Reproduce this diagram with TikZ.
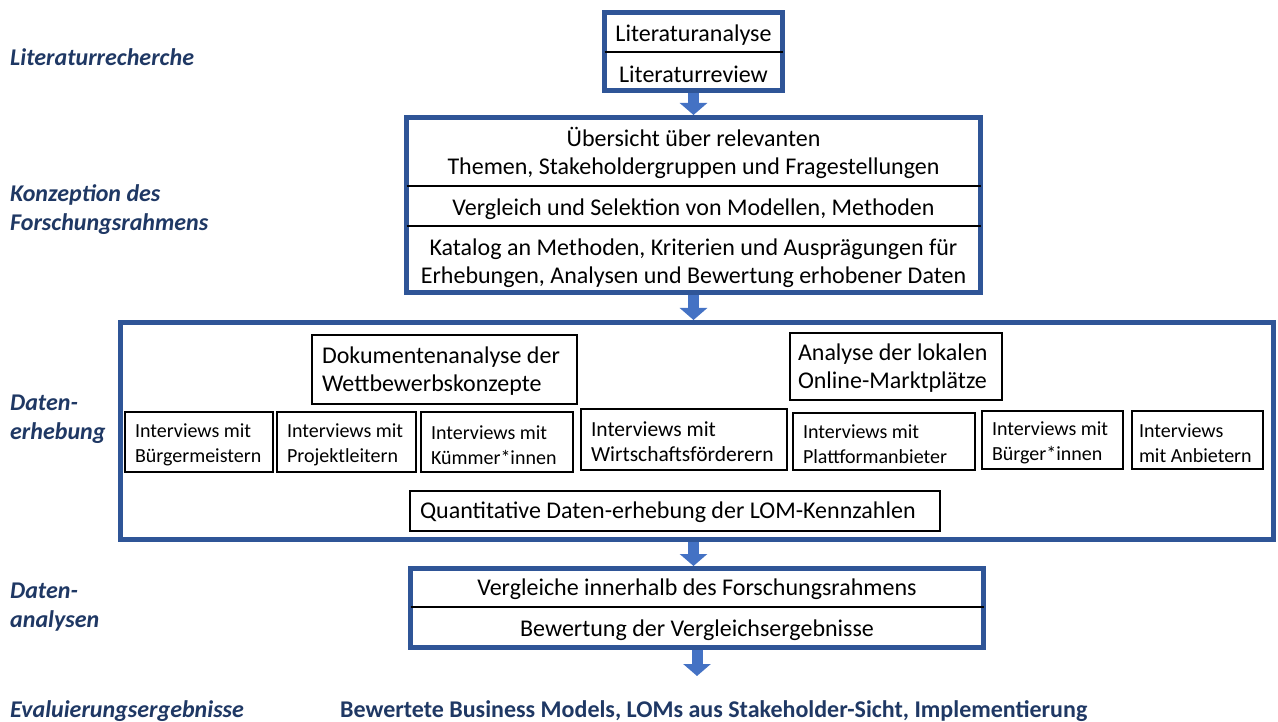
\documentclass[tikz,border=0pt]{standalone}
\usepackage{fontspec}
\setmainfont{Carlito}
\usetikzlibrary{arrows.meta,backgrounds}
\definecolor{frameblue}{HTML}{2F5597}
\definecolor{arrowblue}{HTML}{4472C4}
\definecolor{labelnavy}{HTML}{1F3864}
\begin{document}
\begin{tikzpicture}[x=1pt,y=-1pt,
  frame/.style={draw=frameblue, line width=5pt, fill=white, inner sep=0pt},
  mtext/.style={font=\fontsize{24}{28}\selectfont, inner sep=0pt, align=center, yshift=-2pt},
  ibox/.style={draw=black, line width=1.3pt, fill=white, align=flush left, font=\fontsize{20}{25}\selectfont, inner xsep=10pt, inner ysep=0pt, execute at begin node={\rule{0pt}{20pt}}},
  bbox/.style={ibox, font=\fontsize{24}{28}\selectfont},
  side/.style={anchor=west, align=left, text=labelnavy, font=\fontsize{24}{29}\selectfont\bfseries\itshape, inner sep=0pt},
  divider/.style={draw=black, line width=1.5pt, shorten >=2.5pt, shorten <=2.5pt},
  flow/.style={draw=arrowblue, line width=11pt, -{Triangle[length=12pt,width=27pt]}}
]
\useasboundingbox (0,0) rectangle (1278,722);

% Box 1
\node[frame, minimum width=178pt, minimum height=78pt] (box1) at (693.5,51.5) {};
\draw[divider] (box1.west |- 0,52) -- (box1.east |- 0,52);
\node[mtext] (lit1) at (693.5,33) {Literaturanalyse};
\node[mtext] (lit2) at (693.5,72) {Literaturreview};

% Box 2
\node[frame, minimum width=574pt, minimum height=175pt] (box2) at (693.5,205) {};
\draw[divider] (box2.west |- 0,186) -- (box2.east |- 0,186);
\draw[divider] (box2.west |- 0,226) -- (box2.east |- 0,226);
\node[mtext] (k1) at (693.5,151) {Übersicht über relevanten\\Themen, Stakeholdergruppen und Fragestellungen};
\node[mtext] (k2) at (693.5,207) {Vergleich und Selektion von Modellen, Methoden};
\node[mtext] (k3) at (693.5,261) {Katalog an Methoden, Kriterien und Ausprägungen für\\Erhebungen, Analysen und Bewertung erhobener Daten};

% Box 3
\node[frame, minimum width=1153pt, minimum height=217pt] (box3) at (697,431) {};
\node[bbox, text width=245pt, minimum height=69pt] (doc) at (444.5,369.5) {Dokumentenanalyse der\\Wettbewerbskonzepte};
\node[bbox, inner xsep=8pt, text width=196pt, minimum height=67pt] (olm) at (896,366.5) {Analyse der lokalen\\Online-Marktplätze};
\node[ibox, text width=128pt, minimum height=60pt] (i1) at (199,442) {Interviews mit\\Bürgermeistern};
\node[ibox, text width=119pt, minimum height=60pt] (i2) at (346.5,442) {Interviews mit\\Projektleitern};
\node[ibox, text width=132pt, minimum height=60pt] (i3) at (497,442) {Interviews mit\\Kümmer*innen};
\node[ibox, font=\fontsize{21.5}{25}\selectfont, text width=186pt, minimum height=61pt] (i4) at (684,439.5) {Interviews mit\\Wirtschaftsförderern};
\node[ibox, text width=162pt, minimum height=57pt] (i5) at (884,441.5) {Interviews mit\\Plattformanbieter};
\node[ibox, text width=121pt, minimum height=58pt] (i6) at (1052.5,440) {Interviews mit\\Bürger*innen};
\node[ibox, inner xsep=7pt, text width=117pt, minimum height=58pt] (i7) at (1197.5,440) {Interviews\\mit Anbietern};
\node[bbox, text width=510pt, minimum height=40pt] (quant) at (675,511) {Quantitative Daten-erhebung der LOM-Kennzahlen};

% Box 4
\node[frame, minimum width=573pt, minimum height=79pt] (box4) at (697,608) {};
\draw[divider] (box4.west |- 0,607) -- (box4.east |- 0,607);
\node[mtext] (v1) at (697,587) {Vergleiche innerhalb des Forschungsrahmens};
\node[mtext] (v2) at (697,628) {Bewertung der Vergleichsergebnisse};

\coordinate (resend) at (697,676);

% Arrows
\begin{scope}[on background layer]
\draw[flow] (box1.south) -- (box2.north);
\draw[flow] (box2.south) -- (box2.south |- box3.north);
\draw[flow] (box2.south |- box3.south) -- (box2.south |- box4.north);
\draw[flow] (box4.south) -- (resend);
\end{scope}

% Side labels
\node[side] (s1) at (10,57) {Literaturrecherche};
\node[side] (s2) at (10,209.5) {Konzeption des\\Forschungsrahmens};
\node[side] (s3) at (10,419) {Daten-\\erhebung};
\node[side] (s4) at (10,607.5) {Daten-\\analysen};
\node[side] (s5) at (10,711) {Evaluierungsergebnisse};
\node[anchor=west, inner sep=0pt, text=labelnavy, font=\fontsize{24}{28}\selectfont\bfseries] (res) at (340,711) {Bewertete Business Models, LOMs aus Stakeholder-Sicht, Implementierung};
\end{tikzpicture}
\end{document}
